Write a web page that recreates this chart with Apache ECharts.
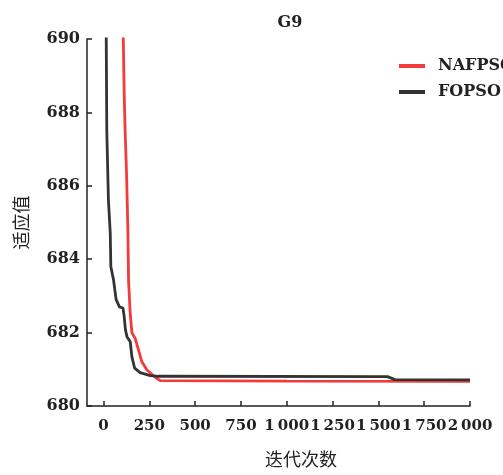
<!DOCTYPE html>
<html><head><meta charset="utf-8">
<script src="https://cdn.jsdelivr.net/npm/echarts@6/dist/echarts.min.js"></script>
<style>html,body{margin:0;padding:0;background:#fff}#c{width:503px;height:475px}</style>
</head><body><div id="c"></div>
<script>
const xTicks = [0, 250, 500, 750, 1000, 1250, 1500, 1750, 2000];
const nafpsoIter = [0, 105, 108, 113, 118, 126, 133, 137, 146, 155, 173, 191, 209, 237, 291, 310, 1000, 2000];
const nafpsoVal  = [760, 692, 690, 688.5, 687.5, 686.3, 684.8, 683.4, 682.5, 682.0, 681.84, 681.53, 681.21, 680.98, 680.75, 680.69, 680.68, 680.67];
const fopsoIter = [0, 12, 15, 18, 27, 37, 40, 55, 62, 69, 87, 106, 112, 120, 128, 146, 155, 170, 200, 255, 300, 1550, 1590, 2000];
const fopsoVal  = [720, 692, 690, 687.5, 685.6, 684.7, 683.8, 683.43, 683.16, 682.9, 682.7, 682.67, 682.48, 682.07, 681.89, 681.75, 681.34, 681.03, 680.91, 680.83, 680.81, 680.8, 680.72, 680.71];

const serif = 'DejaVu Serif';
const zip = (a, b) => a.map((v, i) => [v, b[i]]);
const fmt = v => { const s = String(v); return s.length > 3 ? s.slice(0, s.length - 3) + '\u2009' + s.slice(-3) : s; };

function buildOption(drop) {
  const d = k => drop.indexOf(k) >= 0;
  const yAxis = {type: 'value', min: 680, max: 690, interval: 2,
    axisLine: {show: true, onZero: false, lineStyle: {color: '#222', width: 1.5}},
    axisTick: {show: true, inside: true, length: 5},
    axisLabel: {},
    splitLine: {show: false}};
  if (!d('ytick')) yAxis.axisTick.lineStyle = {color: '#222', width: 1.5};
  if (!d('ylabel')) Object.assign(yAxis.axisLabel, {margin: 7, fontFamily: serif, fontWeight: 'bold', fontSize: 16, color: '#222'});
  if (!d('yname')) Object.assign(yAxis, {name: '适应值', nameLocation: 'middle', nameGap: 57,
    nameTextStyle: {fontFamily: 'Noto Sans CJK SC', fontSize: 18, color: '#222'}});

  const xAxis = {type: 'value', min: -90, max: 2000,
    axisLine: {show: true, onZero: false, lineStyle: {color: '#222', width: 1.5}},
    axisTick: {show: true, inside: true, length: 5, customValues: xTicks},
    axisLabel: {customValues: xTicks},
    splitLine: {show: false}};
  if (!d('xtick')) xAxis.axisTick.lineStyle = {color: '#222', width: 1.5};
  if (!d('xlabopt')) Object.assign(xAxis.axisLabel, {hideOverlap: false, showMinLabel: true, showMaxLabel: true});
  if (!d('xlabfmt')) xAxis.axisLabel.formatter = fmt;
  if (!d('xlabsty')) Object.assign(xAxis.axisLabel, {margin: 13, fontFamily: serif, fontWeight: 'bold', fontSize: 15, color: '#222'});
  if (!d('xname')) Object.assign(xAxis, {name: '迭代次数', nameLocation: 'middle', nameGap: 44,
    nameTextStyle: {fontFamily: 'Noto Sans CJK SC', fontSize: 18, color: '#222', padding: [0, 0, 0, 45]}});

  const legend = d('legsty') ? {left: 394, top: 53, orient: 'vertical', data: ['NAFPSO', 'FOPSO']} :
    {left: 394, top: 53, orient: 'vertical', itemWidth: 26, itemHeight: 4, itemGap: 10, icon: 'rect',
     textStyle: {fontFamily: serif, fontWeight: 'bold', fontSize: 16, color: '#222', lineHeight: 16, padding: [0, 0, 0, 8]},
     data: ['NAFPSO', 'FOPSO']};

  const mk = (name, it, vals, color) => {
    const s = {name: name, type: 'line', data: zip(it, vals), symbol: 'none', lineStyle: {color: color}, itemStyle: {color: color}};
    if (!d('sersty')) { s.lineStyle.width = 2.8; s.showSymbol = false; }
    return s;
  };
  const opt = {
    animation: false,
    grid: {left: 87, right: 33, top: 39, bottom: 69, containLabel: false},
    xAxis: xAxis, yAxis: yAxis, legend: legend,
    series: [mk('NAFPSO', nafpsoIter, nafpsoVal, '#f43a3a'), mk('FOPSO', fopsoIter, fopsoVal, '#333333')]
  };
  if (!d('title')) opt.title = {text: 'G9', left: 285, top: 10, textAlign: 'center',
    textStyle: {fontFamily: serif, fontWeight: 'bold', fontSize: 16, color: '#222'}};
  return opt;
}

const chart = echarts.init(document.getElementById('c'), null, {renderer: 'canvas'});

function yLineVisible() {
  try {
    const cv = chart.getDom().querySelector('canvas');
    const ctx = cv.getContext('2d');
    const dark = y => { const p = ctx.getImageData(84, y, 7, 1).data; for (let i = 0; i < p.length; i += 4) { if (p[i] < 150 && p[i + 3] > 90) return true; } return false; };
    return dark(150) && dark(220) && dark(300);
  } catch (e) {
    const list = chart.getZr().storage.getDisplayList(true);
    return list.some(el => el.type === 'line' && el.shape && Math.abs(el.shape.x1 - el.shape.x2) < 0.6 &&
      Math.abs(el.shape.x1 - 87) < 1.5 && Math.abs(el.shape.y1 - el.shape.y2) > 300 && !el.ignore && !el.invisible);
  }
}
function render(drop) {
  chart.clear();
  chart.setOption(buildOption(drop), true);
  chart.getZr().refreshImmediately();
  return yLineVisible();
}
const order = ['ytick', 'xtick', 'xlabopt', 'sersty', 'legsty', 'xlabfmt', 'ylabel', 'xlabsty', 'title', 'xname', 'yname'];
const tries = [[]];
order.forEach(k => tries.push([k]));
for (let i = 2; i <= order.length; i++) tries.push(order.slice(0, i));
let done = false;
for (const t of tries) { if (render(t)) { done = true; break; } }
if (!done) render([]);
</script></body></html>
